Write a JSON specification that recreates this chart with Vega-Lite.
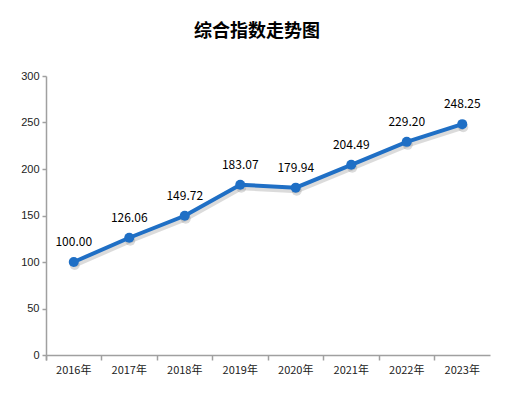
{
  "$schema": "https://vega.github.io/schema/vega-lite/v6.json",
  "autosize": "none",
  "width": 444,
  "height": 279,
  "padding": {"left": 46, "top": 76, "right": 23, "bottom": 38},
  "background": "white",
  "config": {"view": {"stroke": null}},
  "title": {
    "text": "综合指数走势图",
    "font": "Noto Sans CJK SC",
    "fontSize": 18,
    "fontWeight": "bold",
    "color": "#000000",
    "anchor": "middle",
    "dx": -11,
    "offset": 29
  },
  "data": {
    "values": [
      {"year": "2016年", "value": 100.00},
      {"year": "2017年", "value": 126.06},
      {"year": "2018年", "value": 149.72},
      {"year": "2019年", "value": 183.07},
      {"year": "2020年", "value": 179.94},
      {"year": "2021年", "value": 204.49},
      {"year": "2022年", "value": 229.20},
      {"year": "2023年", "value": 248.25}
    ]
  },
  "encoding": {
    "x": {
      "field": "year",
      "type": "ordinal",
      "sort": null,
      "scale": {"type": "band", "paddingInner": 0, "paddingOuter": 0},
      "axis": {
        "title": null,
        "labelAngle": 0,
        "bandPosition": 0,
        "tickExtra": true,
        "domainColor": "#a0a0a0",
        "domainWidth": 1.5,
        "tickColor": "#a0a0a0",
        "tickWidth": 1.5,
        "tickSize": 5,
        "labelFont": "Noto Sans CJK SC",
        "labelFontSize": 11,
        "labelColor": "#222222",
        "labelPadding": 4
      }
    },
    "y": {
      "field": "value",
      "type": "quantitative",
      "scale": {"domain": [0, 300], "nice": false},
      "axis": {
        "title": null,
        "values": [0, 50, 100, 150, 200, 250, 300],
        "grid": false,
        "domainColor": "#a0a0a0",
        "domainWidth": 1.5,
        "tickColor": "#a0a0a0",
        "tickWidth": 1.5,
        "tickSize": 4,
        "labelFont": "Liberation Sans",
        "labelFontSize": 11,
        "labelColor": "#222222",
        "labelPadding": 3
      }
    }
  },
  "layer": [
    {
      "mark": {"type": "line", "color": "#888888", "opacity": 0.3, "strokeWidth": 5, "xOffset": 1, "yOffset": 3}
    },
    {
      "mark": {"type": "point", "filled": true, "color": "#888888", "opacity": 0.3, "size": 100, "xOffset": 1, "yOffset": 3}
    },
    {
      "mark": {"type": "line", "color": "#1f6fc5", "strokeWidth": 4}
    },
    {
      "mark": {"type": "point", "filled": true, "color": "#1f6fc5", "opacity": 1, "size": 100}
    },
    {
      "mark": {"type": "text", "dy": -20, "font": "Noto Sans CJK SC", "fontSize": 12, "color": "#000000"},
      "encoding": {"text": {"field": "value", "type": "quantitative", "format": ".2f"}}
    }
  ]
}
